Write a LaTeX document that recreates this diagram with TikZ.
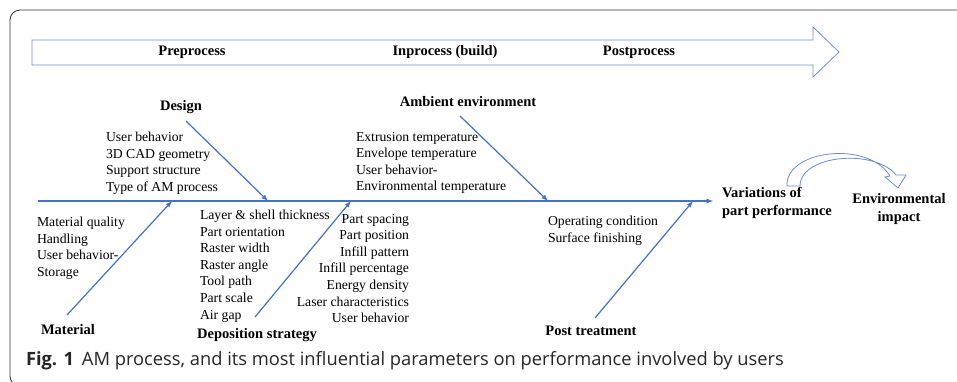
\documentclass[tikz,border=0pt]{standalone}
\usepackage{fontspec}
\setmainfont{Liberation Serif}
\newfontfamily\capfont{Open Sans}
\usepackage{tikz}
\usetikzlibrary{arrows,positioning,calc}
\definecolor{boneblue}{RGB}{68,114,196}
\definecolor{bandblue}{RGB}{112,143,201}

\begin{document}
\begin{tikzpicture}[x=1pt, y=-1pt, >=latex, semithick]
\tikzstyle{every node}=[inner sep=0pt, outer sep=0pt]
\tikzstyle{head}=[font=\fontsize{14.5}{17.5}\selectfont\bfseries]
\tikzstyle{items}=[font=\fontsize{13.7}{16.6}\selectfont, align=left]
\tikzstyle{bone}=[->, draw=boneblue, line width=1.2pt]
\tikzstyle{band}=[draw=bandblue, fill=white, line width=0.8pt]

\useasboundingbox (0,0) rectangle (957,381);
\clip (0,0) rectangle (957,381);

% outer frame
\draw[rounded corners=10pt, line width=0.8pt, draw=black!80] (10,10) rectangle (990,386);

% process band
\draw[band] (32,40) -- (813,40) -- (813,27) -- (839,52) -- (813,77) -- (813,65) -- (32,65) -- cycle;
\node[head] (pre)  at (192,52) {Preprocess};
\node[head] (in)   at (445,52) {Inprocess (build)};
\node[head] (post) at (639,52) {Postprocess};

% spine
\coordinate (tail)   at (38,201);
\coordinate (effect) at (713,201);
\draw[bone] (tail) -- (effect);

% bones
\coordinate (dsgS) at (186,121);  \coordinate (dsgE) at (268,201);
\coordinate (ambS) at (460,116);  \coordinate (ambE) at (548,201);
\coordinate (matS) at (67,315);   \coordinate (matE) at (172,201);
\coordinate (depS) at (255,317);  \coordinate (depE) at (351,201);
\coordinate (ptS)  at (595,318);  \coordinate (ptE)  at (693,201);
\draw[bone] (dsgS) -- (dsgE);
\draw[bone] (ambS) -- (ambE);
\draw[bone] (matS) -- (matE);
\draw[bone] (depS) -- (depE);
\draw[bone] (ptS) -- (ptE);

% causes
\node[head] (design)     at (181,107) {Design};
\node[head] (ambient)    at (468,102) {Ambient environment};
\node[head] (material)   at (68,330)  {Material};
\node[head] (deposition) at (257,335) {Deposition strategy};
\node[head] (posttreat)  at (591,331) {Post treatment};

% parameters
\node[items, anchor=north west] (dsgList) at (106,132)
  {User behavior\\3D CAD geometry\\Support structure\\Type of AM process};
\node[items, anchor=north west] (ambList) at (356,132)
  {Extrusion temperature\\Envelope temperature\\User behavior-\\Environmental temperature};
\node[items, anchor=north west] (matList) at (37,217)
  {Material quality\\Handling\\User behavior-\\Storage};
\node[items, anchor=north west] (depListL) at (200,210)
  {Layer \& shell thickness\\Part orientation\\Raster width\\Raster angle\\Tool path\\Part scale\\Air gap};
\node[items, align=right, anchor=north east] (depListR) at (409,214)
  {Part spacing\\Part position\\Infill pattern\\Infill percentage\\Energy density\\Laser characteristics\\User behavior};
\node[items, anchor=north west] (ptList) at (548,216)
  {Operating condition\\Surface finishing};

% effects
\node[head, align=left, anchor=west] (variation) at (722,203) {Variations of\\part performance};
\node[head, align=center] (impact) at (899,209) {Environmental\\impact};

% curved arrow between the effects
\draw[band] (787,186) .. controls (785,150) and (868,140) .. (890,176)
  -- (885,177) -- (898,188) -- (906,175) -- (896,175)
  .. controls (874,148) and (800,155) .. (800,186) -- cycle;

% caption
\node[anchor=west, font=\capfont\fontsize{18.3}{22}\selectfont, text=black!85] (caption) at (26,361)
  {\textbf{Fig. 1}\hspace{8pt}AM process, and its most influential parameters on performance involved by users};
\end{tikzpicture}
\end{document}
